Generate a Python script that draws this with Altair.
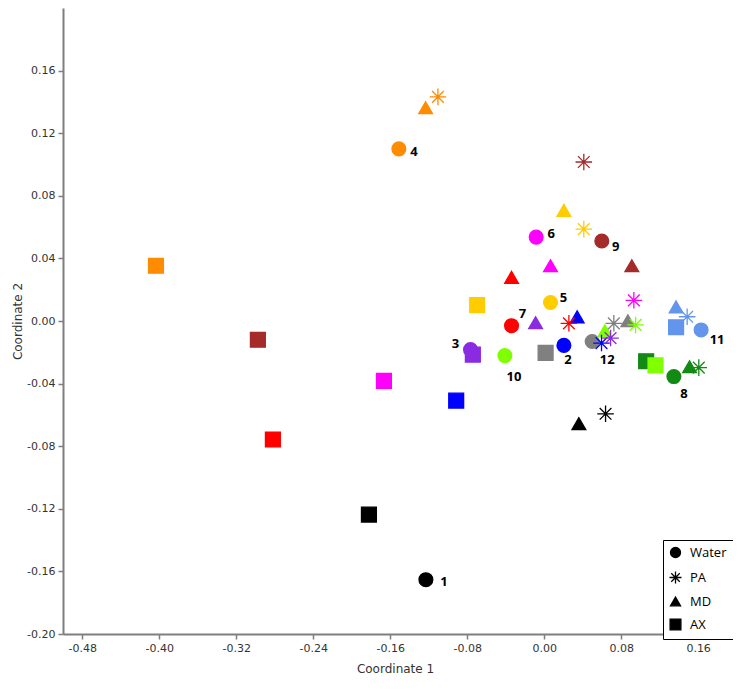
import altair as alt
import pandas as pd

# ---------------- data ----------------
samples = ["1", "2", "3", "4", "5", "6", "7", "8", "9", "10", "11", "12"]
sample_colors = ["#000000", "#0000FF", "#8A2BE2", "#FF8C00", "#FFCC00", "#FF00FF",
                 "#FF0000", "#138A13", "#A52A2A", "#7FFF00", "#6495ED", "#808080"]
groups = ["Water", "PA", "MD", "AX"]

water_x = [-0.1229, 0.0205, -0.0765, -0.1510, 0.0066, -0.0083, -0.0339, 0.1348, 0.0599, -0.0408, 0.1631, 0.0499]
water_y = [-0.1653, -0.0156, -0.0183, 0.1100, 0.0118, 0.0536, -0.0030, -0.0355, 0.0511, -0.0221, -0.0057, -0.0131]
pa_x = [0.0638, 0.0596, 0.0690, -0.1104, 0.0412, 0.0932, 0.0257, 0.1607, 0.0412, 0.0950, 0.1486, 0.0724]
pa_y = [-0.0593, -0.0141, -0.0109, 0.1432, 0.0587, 0.0132, -0.0015, -0.0298, 0.1016, -0.0025, 0.0027, -0.0015]
md_x = [0.0361, 0.0343, -0.0089, -0.1232, 0.0205, 0.0066, -0.0339, 0.1511, 0.0911, 0.0631, 0.1371, 0.0870]
md_y = [-0.0656, 0.0027, -0.0011, 0.1363, 0.0707, 0.0353, 0.0279, -0.0292, 0.0353, -0.0063, 0.0090, 0.0002]
ax_x = [-0.1821, -0.0914, -0.0741, -0.4034, -0.0696, -0.1665, -0.2819, 0.1060, -0.2975, 0.1157, 0.1371, 0.0015]
ax_y = [-0.1237, -0.0509, -0.0215, 0.0353, 0.0101, -0.0383, -0.0757, -0.0257, -0.0120, -0.0284, -0.0040, -0.0204]

x_ticks = [-0.48, -0.40, -0.32, -0.24, -0.16, -0.08, 0.00, 0.08, 0.16]
y_ticks = [-0.20, -0.16, -0.12, -0.08, -0.04, 0.00, 0.04, 0.08, 0.12, 0.16]

# ---------------- styles ----------------
ASTERISK = "M0,-1.2L0,1.2M-1.2,0L1.2,0M-0.85,-0.85L0.85,0.85M-0.85,0.85L0.85,-0.85"
SQUARE = "M-1.08,-1.08L1.08,-1.08L1.08,1.08L-1.08,1.08Z"
shape_range = ["circle", ASTERISK, "triangle-up", SQUARE]
label_offsets = {"1": (18, 2), "2": (4, 15), "3": (-15, -6), "4": (15, 3), "5": (13, -5),
                 "6": (15, -3), "7": (11, -12), "8": (10, 17), "9": (14, 6), "10": (9, 21),
                 "11": (16, 10), "12": (15, 18)}

rows = []
for g, xs, ys in [("AX", ax_x, ax_y), ("Water", water_x, water_y), ("MD", md_x, md_y), ("PA", pa_x, pa_y)]:
    for s, xv, yv in zip(samples, xs, ys):
        rows.append({"group": g, "sample": s, "c1": xv, "c2": yv})
df = pd.DataFrame(rows)

label_expr = "(datum.value < 0 ? '-' : '') + format(abs(datum.value), '.2f')"

X = alt.X("c1:Q", scale=alt.Scale(domain=[-0.50, 0.19], nice=False, zero=False),
          axis=alt.Axis(values=x_ticks, title="Coordinate 1", labelExpr=label_expr,
                        titleX=332, titleY=34, titleBaseline="middle"))
Y = alt.Y("c2:Q", scale=alt.Scale(domain=[-0.20, 0.20], nice=False, zero=False),
          axis=alt.Axis(values=y_ticks, title="Coordinate 2", labelExpr=label_expr,
                        titleX=-46, titleY=313, titleBaseline="middle", titleAlign="center"))

color_scale = alt.Scale(domain=samples, range=sample_colors)

points = alt.Chart(df).mark_point(filled=True, size=190, opacity=1, strokeWidth=1.3).encode(
    x=X, y=Y,
    fill=alt.Fill("sample:N", scale=color_scale, legend=None),
    stroke=alt.Stroke("sample:N", scale=color_scale, legend=None),
    shape=alt.Shape("group:N", scale=alt.Scale(domain=groups, range=shape_range),
                    legend=alt.Legend(title=None, orient="none", legendX=600, legendY=532,
                                      symbolSize=100, symbolFillColor="black",
                                      symbolStrokeColor="black", symbolStrokeWidth=1.3,
                                      labelFont="Open Sans", labelFontSize=13,
                                      labelColor="black", rowPadding=7, labelOffset=8,
                                      strokeColor="black", fillColor="white", padding=6,
                                      cornerRadius=0)),
)

layers = [points]
for s in samples:
    dx, dy = label_offsets[s]
    layers.append(
        alt.Chart(df).transform_filter(
            (alt.datum.group == "Water") & (alt.datum.sample == s)
        ).mark_text(dx=dx, dy=dy, font="Open Sans", fontSize=13, fontWeight="bold",
                    color="black", align="center", baseline="middle").encode(
            x=X, y=Y, text="sample:N")
    )

chart = alt.layer(*layers).properties(
    width=664, height=626,
    autosize=alt.AutoSizeParams(type="none"),
    padding={"left": 55, "top": 0, "right": 6, "bottom": 43},
).configure_view(stroke=None).configure_axis(
    grid=False, domainColor="#7f7f7f", domainWidth=2, tickColor="#7f7f7f",
    tickSize=5, tickWidth=1.5, labelColor="#333333", labelFont="DejaVu Sans",
    labelFontSize=11, labelPadding=3, titleFont="DejaVu Sans", titleFontSize=12,
    titleFontWeight="normal", titleColor="#333333"
).configure_legend(symbolBaseFillColor="black", symbolBaseStrokeColor="black")

chart.save("out.html", embed_options={"renderer": "svg", "actions": False})
